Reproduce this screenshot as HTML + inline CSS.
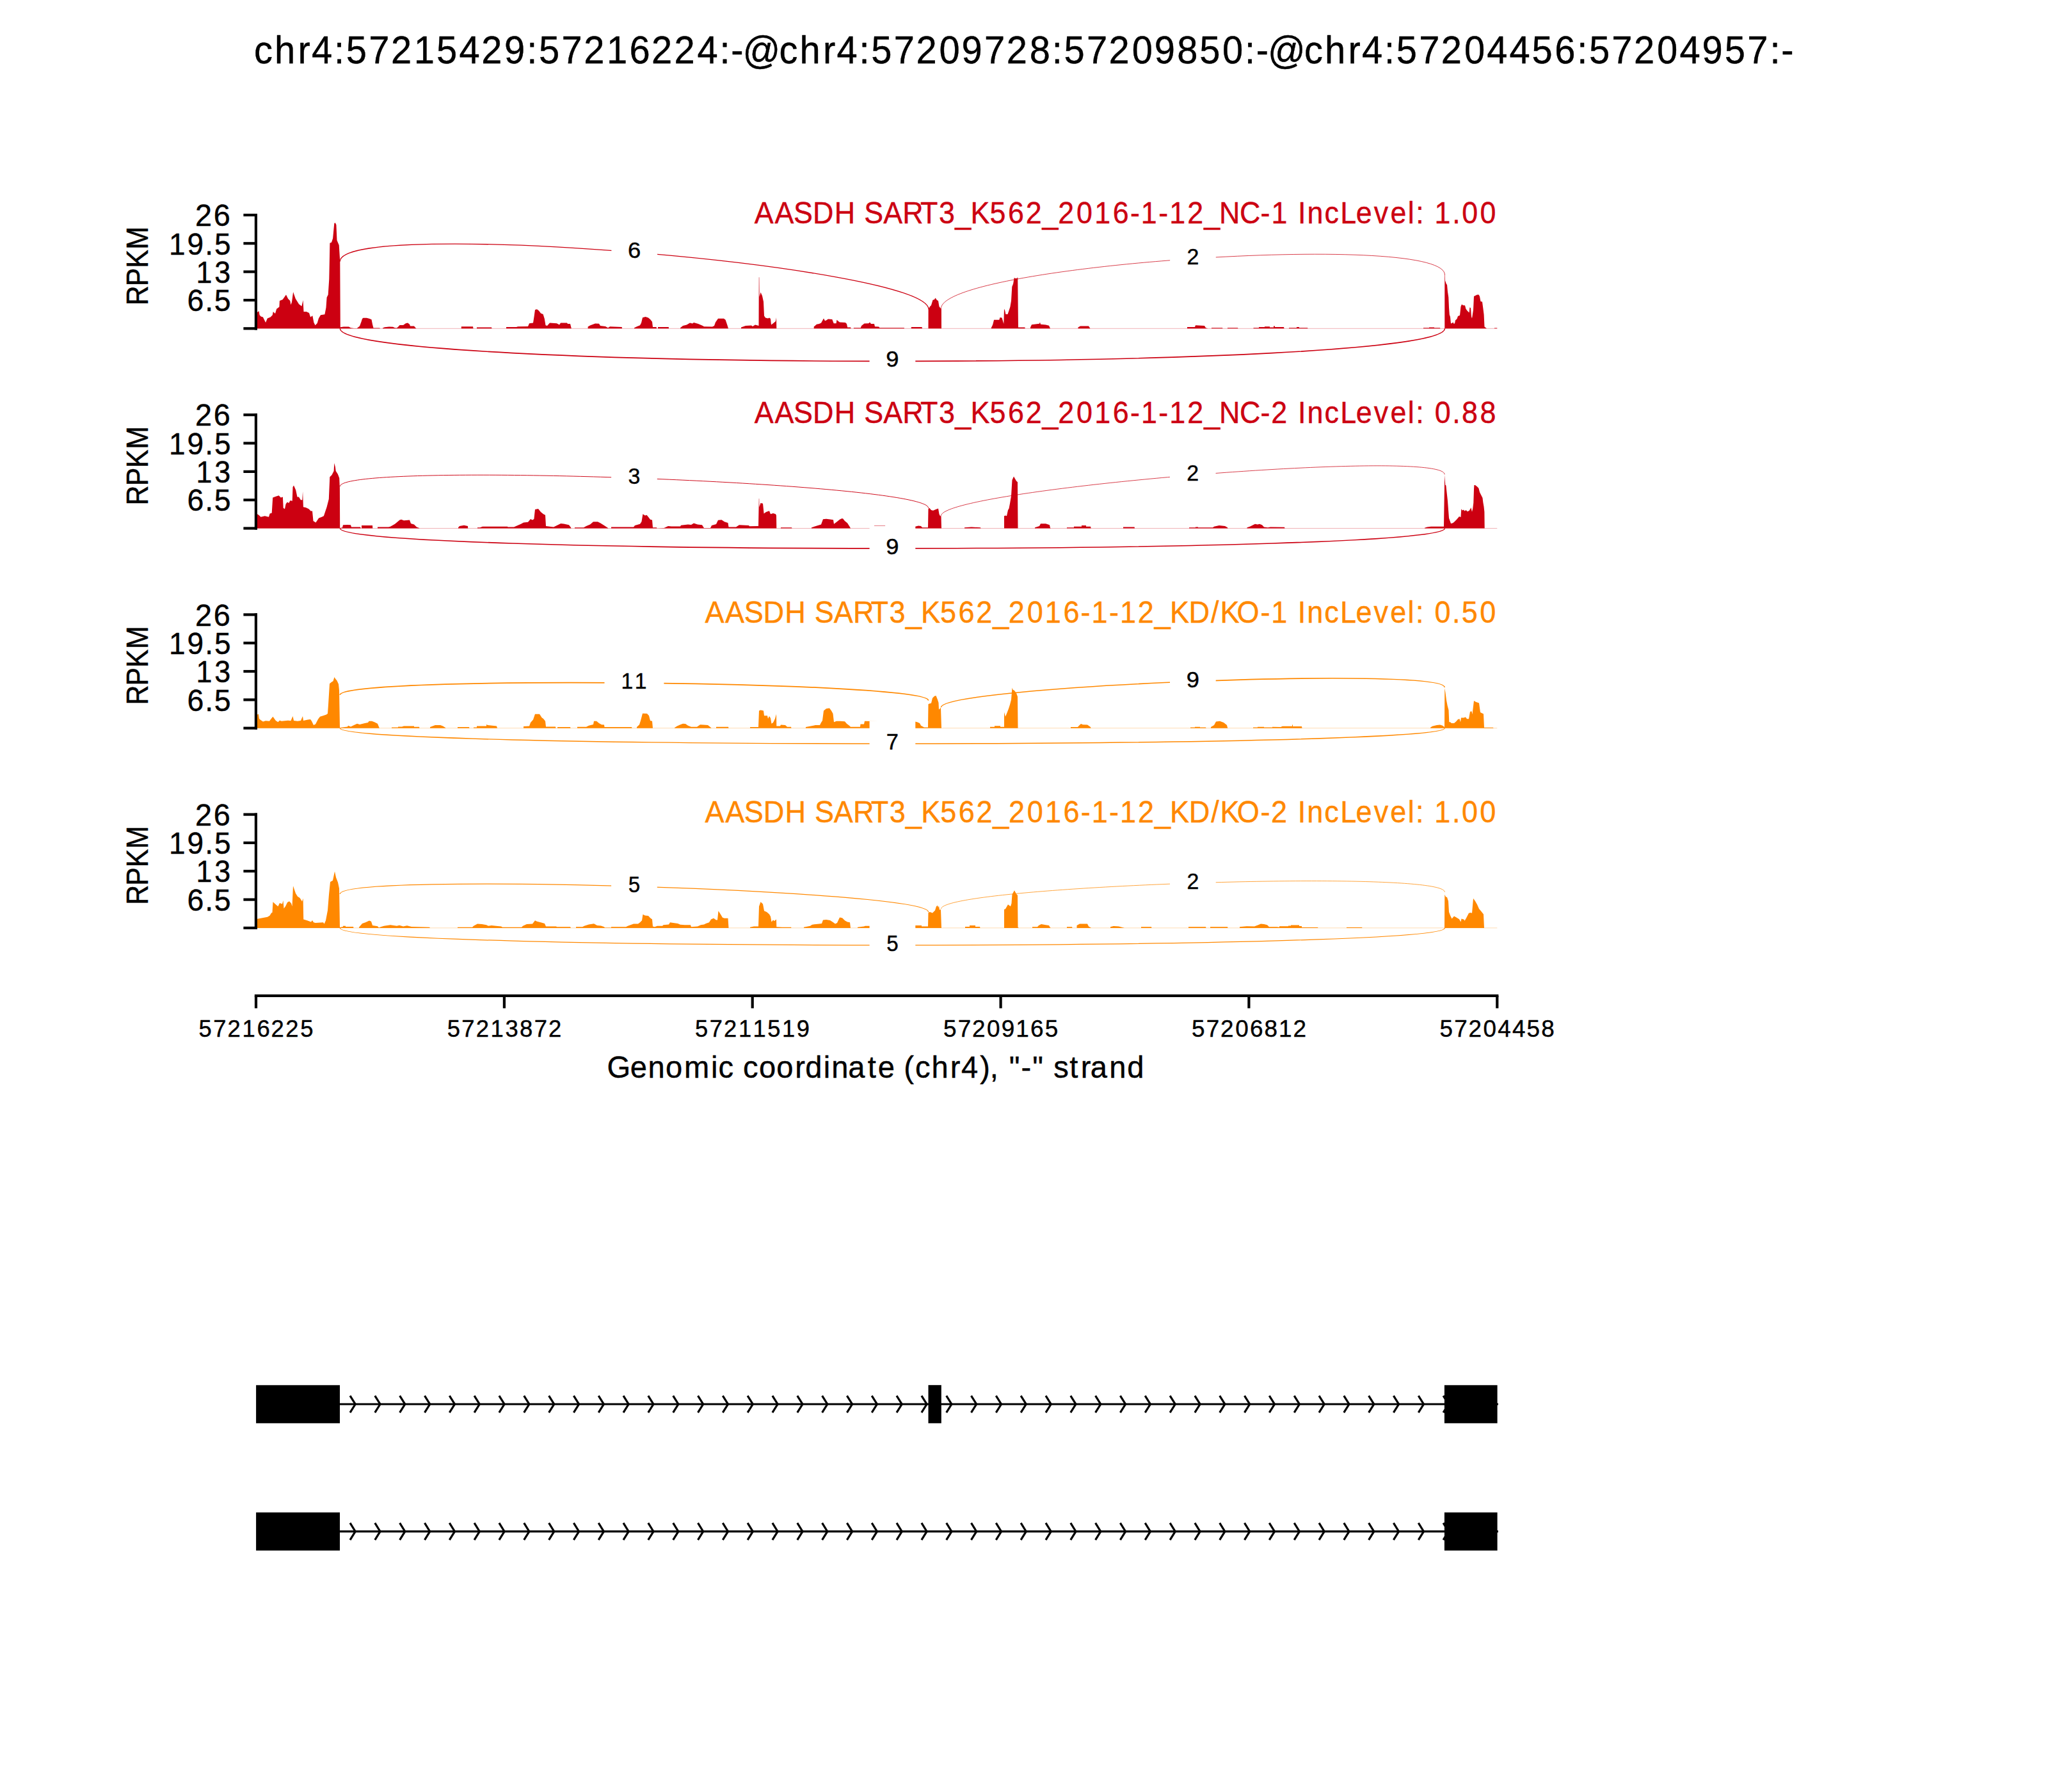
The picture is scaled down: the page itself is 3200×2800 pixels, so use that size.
<!DOCTYPE html>
<html><head><meta charset="utf-8"><title>Sashimi plot</title><style>html,body{margin:0;padding:0;background:#fff;}svg{display:block;}text{font-family:"Liberation Sans", sans-serif;}</style></head>
<body><svg width="3200" height="2800" viewBox="0 0 3200 2800">
<rect width="3200" height="2800" fill="#fff"/>
<path d="M400.0,513.3 L400.0,513.3 L400.0,489.3 L401.9,488.0 L404.5,485.9 L405.6,492.2 L407.7,494.4 L410.9,495.4 L415.1,503.9 L417.8,497.5 L422.6,495.4 L425.8,492.2 L426.8,487.0 L430.0,490.1 L432.1,482.7 L436.4,479.5 L436.9,470.0 L441.7,467.9 L447.0,460.4 L450.1,466.8 L453.3,470.0 L454.4,476.3 L456.0,472.1 L458.1,456.2 L461.8,466.8 L467.1,475.3 L471.4,478.5 L473.5,468.9 L474.5,487.0 L478.8,487.0 L483.0,489.1 L485.1,495.4 L488.3,493.3 L490.4,503.9 L492.6,508.2 L495.7,505.0 L497.9,497.5 L501.0,492.2 L507.4,491.2 L509.5,480.6 L510.6,464.7 L512.7,460.4 L514.3,436.0 L515.4,379.8 L518.0,378.8 L520.1,372.4 L522.3,349.1 L523.8,348.0 L525.4,351.2 L526.5,375.6 L529.7,383.0 L530.7,398.9 L531.3,408.5 L531.8,511.3 L537.0,510.4 L545.0,510.4 L548.0,512.3 L553.0,513.0 L557.7,513.0 L562.0,509.6 L564.5,502.8 L566.0,497.9 L567.5,496.7 L573.0,496.7 L577.5,497.9 L580.5,499.3 L582.0,506.7 L583.5,512.5 L593.0,512.5 L594.0,513.3 L598.0,513.3 L598.0,512.5 L601.0,511.3 L608.0,510.4 L614.0,510.8 L617.0,512.3 L620.0,512.5 L622.5,510.3 L624.5,508.1 L630.0,508.1 L634.0,505.2 L637.0,504.5 L640.0,506.7 L641.0,509.4 L647.0,509.4 L650.0,513.0 L651.0,513.3 L720.8,513.3 L720.8,510.2 L739.0,510.2 L739.5,513.3 L745.0,513.3 L745.0,511.4 L768.0,511.4 L768.5,513.3 L791.0,513.3 L791.0,511.0 L807.0,511.0 L809.0,510.3 L825.0,509.9 L827.0,505.2 L833.0,504.4 L834.5,495.0 L836.0,484.1 L839.0,483.3 L842.0,485.6 L845.0,489.5 L848.6,491.1 L850.8,498.1 L852.5,508.3 L855.0,509.1 L859.0,504.4 L870.0,505.2 L874.0,507.5 L876.0,504.4 L886.0,504.4 L887.0,506.0 L891.0,506.0 L892.8,513.3 L918.6,513.3 L918.6,510.6 L922.0,508.6 L930.0,505.5 L936.0,505.8 L938.0,509.1 L946.0,509.9 L950.0,512.3 L953.0,510.2 L971.7,511.1 L972.0,513.3 L991.0,513.3 L991.0,512.2 L995.0,510.3 L1000.0,508.3 L1002.0,504.4 L1004.0,496.3 L1008.6,495.0 L1013.0,496.6 L1016.0,498.9 L1019.0,502.8 L1020.0,511.1 L1025.6,511.1 L1026.0,513.3 L1028.0,513.3 L1028.0,511.1 L1044.8,511.1 L1045.0,513.3 L1063.0,513.3 L1063.0,512.2 L1067.0,509.1 L1073.0,507.5 L1078.0,504.4 L1082.0,505.6 L1084.0,504.1 L1091.0,506.0 L1098.0,509.1 L1100.0,510.3 L1113.0,510.6 L1116.0,509.1 L1118.0,503.6 L1122.0,497.7 L1131.0,497.7 L1133.6,499.7 L1136.0,506.7 L1138.0,513.3 L1158.0,513.3 L1158.0,511.4 L1165.0,509.1 L1174.0,508.6 L1176.0,509.9 L1180.0,507.5 L1185.5,509.1 L1185.8,433.3 L1186.3,433.3 L1186.6,463.8 L1188.5,456.7 L1191.0,462.3 L1193.0,471.6 L1194.0,493.5 L1196.0,496.6 L1200.0,497.4 L1202.0,496.6 L1204.0,498.1 L1205.0,507.5 L1208.0,505.2 L1212.0,502.1 L1213.0,496.1 L1213.3,513.3 L1271.7,513.3 L1271.7,510.6 L1276.0,506.7 L1280.0,506.0 L1283.1,504.4 L1287.0,497.4 L1289.0,501.3 L1291.0,500.5 L1294.0,498.5 L1300.3,498.9 L1302.7,505.2 L1306.6,505.2 L1307.5,499.7 L1310.0,502.1 L1312.0,503.6 L1320.9,503.9 L1323.0,506.0 L1324.2,511.4 L1329.2,511.4 L1329.5,513.3 L1333.9,513.3 L1333.9,512.2 L1344.8,512.2 L1346.0,509.1 L1350.5,505.6 L1357.3,505.2 L1359.0,503.6 L1361.0,506.0 L1366.0,506.0 L1367.0,510.3 L1373.0,510.6 L1374.5,512.2 L1412.8,512.2 L1413.0,513.3 L1423.8,513.3 L1423.8,511.0 L1440.5,511.0 L1441.0,513.3 L1450.5,513.3 L1450.6,483.6 L1453.0,478.9 L1455.0,477.0 L1457.5,468.8 L1460.0,468.0 L1461.5,465.6 L1464.0,469.0 L1466.0,470.0 L1467.5,479.0 L1470.0,482.0 L1470.9,482.4 L1471.0,513.3 L1548.8,513.3 L1548.8,512.2 L1551.1,507.5 L1553.1,499.7 L1561.3,499.7 L1562.5,496.1 L1565.5,496.6 L1568.3,506.0 L1569.0,482.5 L1570.3,485.6 L1571.4,491.1 L1574.5,491.1 L1576.4,485.6 L1578.4,479.4 L1580.0,470.0 L1581.3,448.1 L1583.1,443.5 L1584.7,434.1 L1586.6,434.9 L1588.6,434.9 L1590.2,433.3 L1591.0,511.4 L1601.5,511.4 L1601.6,513.3 L1610.0,513.3 L1610.0,511.4 L1612.0,507.2 L1618.0,506.4 L1624.0,505.8 L1625.0,503.6 L1626.0,506.7 L1634.0,507.5 L1639.0,508.8 L1641.0,513.3 L1684.5,513.3 L1684.5,511.4 L1688.0,509.4 L1701.0,509.4 L1703.5,513.3 L1855.0,513.3 L1855.0,511.1 L1867.0,511.1 L1868.0,508.3 L1882.0,509.1 L1884.0,512.2 L1887.5,513.3 L1893.0,513.3 L1893.0,512.2 L1910.0,512.2 L1910.5,513.3 L1918.0,513.3 L1918.0,512.2 L1934.0,512.2 L1934.5,513.3 L1958.5,513.3 L1958.5,512.2 L1967.0,512.2 L1967.0,511.1 L1976.0,511.1 L1976.0,510.2 L1984.0,510.2 L1984.0,511.4 L1990.0,511.4 L1990.0,509.4 L1992.0,509.4 L1992.0,511.1 L2006.0,511.1 L2006.5,513.3 L2014.0,513.3 L2014.0,512.2 L2026.0,512.2 L2026.0,511.1 L2030.0,511.1 L2030.0,512.2 L2043.0,512.2 L2043.5,513.3 L2224.0,513.3 L2224.0,512.3 L2233.0,512.3 L2233.0,511.4 L2241.0,511.4 L2241.0,512.2 L2250.0,512.2 L2250.5,513.3 L2257.3,513.3 L2257.3,428.6 L2257.8,428.6 L2258.1,439.3 L2258.5,439.6 L2260.0,444.0 L2261.0,444.7 L2262.0,455.7 L2263.3,464.5 L2264.0,480.6 L2264.8,491.6 L2266.0,495.2 L2267.0,505.5 L2269.0,504.8 L2270.5,503.3 L2271.0,505.5 L2273.0,505.5 L2274.0,500.4 L2276.5,498.2 L2278.0,494.1 L2281.0,492.7 L2282.5,479.1 L2284.0,475.5 L2286.0,476.9 L2289.0,477.3 L2290.5,482.8 L2293.0,486.1 L2295.6,488.6 L2296.5,480.2 L2298.0,481.3 L2299.0,494.5 L2300.0,497.4 L2302.0,484.2 L2303.0,463.0 L2305.0,461.9 L2308.0,460.4 L2310.6,460.4 L2312.0,463.0 L2313.5,471.1 L2316.0,471.4 L2317.5,482.8 L2318.6,491.6 L2319.5,510.6 L2322.0,512.5 L2323.0,513.3 L2335.0,513.3 L2335.0,512.5 L2339.3,512.5 L2339.3,513.3 L2339.3,513.3 Z" fill="#CC0011" stroke="none"/>
<line x1="400" y1="513.3" x2="2339.3" y2="513.3" stroke="#CC0011" stroke-width="1" stroke-opacity="0.3"/>
<path d="M531.3,408.5 C531.3,339.5 1451.2,414.6 1451.2,483.6" fill="none" stroke="#CC0011" stroke-width="1.35"/>
<path d="M1470.3,482.4 C1470.3,413.4 2257.5,360.5 2257.5,429.5" fill="none" stroke="#CC0011" stroke-width="0.76"/>
<path d="M531.3,513.3 C531.3,581.4 2257.5,581.4 2257.5,513.3" fill="none" stroke="#CC0011" stroke-width="1.60"/>
<path d="M400.0,825.5 L400.0,825.5 L400.0,804.5 L402.0,803.2 L404.4,804.7 L407.5,807.8 L413.8,806.3 L420.0,807.8 L421.6,802.4 L424.7,801.6 L426.2,777.4 L430.9,775.8 L435.6,774.2 L438.8,777.4 L441.9,776.6 L442.7,793.8 L445.0,795.3 L446.6,787.5 L448.9,784.4 L451.2,786.0 L453.6,782.1 L456.7,782.8 L457.5,761.0 L459.0,758.6 L462.2,765.7 L464.5,776.6 L466.9,776.6 L470.0,781.3 L472.3,781.3 L473.1,768.0 L473.9,792.2 L477.8,793.0 L482.5,795.3 L485.6,798.5 L488.0,798.5 L489.5,814.1 L493.4,816.4 L498.1,809.4 L502.8,807.8 L505.9,806.3 L510.6,792.2 L513.8,779.7 L515.3,745.3 L518.4,742.2 L521.6,736.0 L522.3,723.5 L523.9,729.7 L524.7,736.0 L527.8,740.7 L530.2,746.9 L530.9,762.5 L531.2,825.0 L535.0,824.2 L536.0,820.3 L543.0,820.0 L548.0,820.3 L549.0,823.5 L563.0,823.5 L563.8,825.5 L565.0,825.5 L565.0,821.1 L582.0,821.1 L582.3,825.5 L590.0,825.5 L590.0,823.5 L607.0,823.5 L610.0,822.7 L617.0,818.8 L624.5,812.5 L627.0,811.8 L631.0,813.3 L640.0,812.5 L642.0,818.0 L647.0,819.6 L651.0,823.5 L655.0,825.0 L655.5,825.5 L716.0,825.5 L716.0,824.2 L718.0,821.9 L725.0,820.8 L731.0,821.9 L731.2,825.5 L746.0,825.5 L746.0,824.2 L750.0,824.2 L754.0,822.7 L793.0,822.7 L793.5,823.5 L803.0,823.5 L813.9,818.8 L818.0,816.4 L825.0,815.7 L829.0,811.0 L831.9,812.5 L834.4,811.0 L836.0,796.1 L841.0,795.0 L845.0,800.0 L849.0,803.2 L852.0,804.7 L853.0,821.9 L865.0,823.5 L876.2,818.0 L881.0,818.5 L889.0,820.3 L892.0,824.2 L892.5,825.5 L898.0,825.5 L898.0,824.2 L912.0,824.2 L916.0,821.9 L922.0,819.6 L927.0,815.2 L934.0,815.2 L938.0,817.2 L944.0,821.1 L950.0,825.0 L950.5,825.5 L955.0,825.5 L955.0,823.5 L990.0,823.5 L992.0,821.1 L1000.0,818.8 L1002.5,814.9 L1004.4,803.2 L1008.0,805.5 L1010.5,804.7 L1013.0,807.8 L1016.0,811.8 L1019.0,812.5 L1020.0,824.2 L1026.0,824.2 L1026.5,825.5 L1037.5,825.0 L1044.0,821.9 L1049.0,822.5 L1063.0,822.5 L1064.0,820.7 L1075.0,819.6 L1080.0,820.0 L1084.0,817.5 L1090.0,819.6 L1097.0,820.3 L1100.0,825.0 L1110.0,825.0 L1112.0,821.1 L1119.0,819.1 L1122.0,812.8 L1127.5,812.2 L1132.0,815.3 L1137.5,816.9 L1138.5,823.5 L1150.0,823.5 L1155.0,820.3 L1170.0,821.1 L1171.0,822.2 L1185.0,821.9 L1185.8,778.9 L1186.2,778.9 L1186.4,792.2 L1188.5,786.0 L1192.0,786.8 L1193.6,802.4 L1197.0,800.0 L1202.0,798.2 L1204.0,803.2 L1208.0,801.9 L1212.0,803.2 L1213.0,805.5 L1213.3,825.5 L1220.0,825.5 L1220.0,824.2 L1237.0,824.2 L1237.5,825.5 L1268.0,825.5 L1268.0,824.2 L1278.0,821.1 L1283.0,819.6 L1286.0,811.3 L1291.0,810.7 L1297.0,811.5 L1302.0,812.2 L1303.0,818.8 L1307.0,815.7 L1312.0,811.8 L1315.0,810.2 L1317.0,810.2 L1320.0,814.1 L1324.0,817.2 L1328.0,823.5 L1329.0,825.5 L1366.0,825.5 L1366.0,821.1 L1383.0,821.1 L1384.0,825.5 L1430.0,825.5 L1430.0,822.7 L1435.0,821.6 L1439.0,821.9 L1441.0,824.2 L1450.0,824.2 L1450.5,795.3 L1452.0,793.5 L1455.0,796.9 L1458.0,797.7 L1462.0,796.1 L1466.0,794.6 L1467.5,803.2 L1469.0,806.3 L1470.5,806.3 L1471.0,825.5 L1507.0,825.5 L1507.0,824.2 L1518.0,823.5 L1532.0,824.2 L1532.5,825.5 L1569.0,825.5 L1569.0,806.3 L1571.0,805.5 L1573.0,806.3 L1575.0,796.9 L1576.5,794.6 L1578.0,786.8 L1580.0,775.0 L1581.5,750.0 L1584.0,744.6 L1588.0,751.6 L1590.0,753.2 L1590.5,825.5 L1617.0,825.5 L1617.0,824.2 L1624.0,821.9 L1626.0,818.3 L1634.0,818.3 L1640.0,820.3 L1641.0,825.0 L1642.0,825.5 L1667.0,825.5 L1667.0,824.2 L1678.0,824.2 L1678.0,822.7 L1690.0,822.7 L1690.0,821.1 L1697.0,821.1 L1697.0,822.7 L1704.0,822.7 L1704.7,825.5 L1755.0,825.5 L1755.0,823.5 L1772.6,823.5 L1773.0,825.5 L1858.0,825.5 L1858.0,824.2 L1868.0,824.2 L1868.0,823.5 L1872.0,823.5 L1872.0,824.2 L1895.0,824.2 L1897.0,822.7 L1905.0,821.1 L1914.0,821.9 L1918.0,824.2 L1918.5,825.5 L1948.5,825.5 L1948.5,824.2 L1953.0,822.7 L1961.0,818.8 L1965.0,819.6 L1968.0,818.8 L1972.0,820.3 L1975.0,823.5 L1981.0,824.2 L1985.0,823.5 L2007.0,823.8 L2007.5,825.5 L2226.0,825.5 L2226.0,824.7 L2230.0,823.5 L2236.0,822.7 L2256.0,822.7 L2257.2,742.2 L2258.3,757.8 L2259.4,758.6 L2261.0,773.5 L2262.0,782.8 L2264.0,809.4 L2267.0,818.0 L2270.0,817.2 L2272.0,815.7 L2276.0,811.8 L2280.0,807.1 L2282.5,808.1 L2283.3,795.3 L2285.0,797.5 L2287.0,796.4 L2288.5,798.4 L2290.6,797.0 L2292.8,799.2 L2295.6,798.1 L2297.6,794.7 L2298.4,793.1 L2300.0,799.8 L2301.2,794.7 L2302.3,785.8 L2303.0,764.6 L2303.4,757.9 L2305.0,757.9 L2307.0,759.6 L2309.0,761.2 L2310.5,762.9 L2312.0,769.1 L2314.5,774.1 L2316.5,778.0 L2317.4,785.2 L2318.5,791.4 L2319.4,799.8 L2319.7,825.5 L2319.7,825.5 Z" fill="#CC0011" stroke="none"/>
<line x1="400" y1="825.5" x2="2339.3" y2="825.5" stroke="#CC0011" stroke-width="1" stroke-opacity="0.3"/>
<path d="M531.2,760.2 C531.2,720.2 1450.6,753.8 1450.6,793.8" fill="none" stroke="#CC0011" stroke-width="0.96"/>
<path d="M1470.3,806.2 C1470.3,764.2 2257.2,699.4 2257.2,741.4" fill="none" stroke="#CC0011" stroke-width="0.76"/>
<path d="M531.3,825.5 C531.3,867.3 2257.5,867.3 2257.5,825.5" fill="none" stroke="#CC0011" stroke-width="1.60"/>
<path d="M400.0,1137.7 L400.0,1137.7 L400.0,1117.7 L402.0,1116.6 L404.0,1115.8 L405.0,1122.9 L407.5,1125.2 L411.0,1127.5 L415.0,1126.3 L421.0,1126.8 L422.6,1124.4 L426.4,1119.7 L428.0,1122.1 L430.9,1126.0 L434.4,1128.3 L437.0,1125.7 L440.0,1126.8 L445.0,1126.3 L450.0,1125.7 L454.4,1126.3 L457.5,1118.9 L459.0,1126.0 L465.0,1126.8 L470.0,1126.0 L473.0,1118.9 L474.0,1126.0 L481.0,1124.4 L485.0,1124.1 L487.0,1126.8 L490.0,1133.0 L493.0,1131.4 L497.0,1123.7 L500.0,1119.7 L505.0,1118.2 L510.0,1116.6 L512.0,1115.0 L513.0,1101.0 L515.0,1068.2 L518.0,1065.8 L520.5,1064.3 L522.5,1058.0 L524.0,1060.4 L526.5,1063.5 L529.0,1068.9 L530.0,1079.1 L531.0,1136.9 L543.0,1135.4 L544.0,1133.8 L548.0,1135.4 L553.0,1133.0 L558.0,1130.7 L562.0,1131.9 L567.0,1130.7 L570.0,1129.9 L575.0,1129.1 L576.6,1126.8 L581.0,1126.8 L585.0,1128.3 L590.0,1130.7 L592.5,1136.9 L593.0,1137.7 L612.0,1137.7 L612.0,1136.6 L622.0,1136.6 L622.0,1135.4 L628.0,1135.4 L631.0,1134.6 L647.0,1134.6 L647.0,1135.8 L655.0,1135.8 L655.5,1137.7 L672.0,1137.7 L672.0,1136.1 L680.0,1133.0 L688.0,1133.0 L692.0,1134.6 L696.0,1136.9 L696.5,1137.7 L715.0,1137.7 L715.0,1136.1 L733.0,1136.1 L733.5,1137.7 L740.0,1137.7 L740.0,1136.6 L745.0,1136.6 L745.0,1134.6 L760.0,1134.6 L760.0,1131.9 L762.0,1133.0 L776.0,1134.6 L777.0,1137.7 L818.0,1137.7 L818.0,1134.9 L827.0,1134.6 L829.0,1129.1 L833.0,1124.4 L836.0,1115.8 L843.0,1115.8 L846.6,1121.3 L849.0,1122.9 L852.0,1126.8 L853.0,1135.4 L868.0,1135.4 L868.5,1137.7 L871.0,1137.7 L871.0,1136.1 L891.0,1136.1 L891.5,1137.7 L902.0,1137.7 L902.0,1135.7 L916.0,1135.7 L920.0,1133.8 L927.0,1131.9 L928.0,1126.8 L932.0,1126.8 L936.0,1129.9 L940.0,1132.2 L944.0,1132.5 L944.5,1136.1 L987.0,1136.1 L987.5,1137.7 L995.0,1137.7 L995.0,1136.1 L999.0,1132.2 L1001.0,1126.0 L1004.0,1114.7 L1011.0,1115.0 L1014.0,1118.2 L1016.0,1126.0 L1019.0,1126.8 L1020.0,1137.7 L1054.0,1137.7 L1054.0,1136.9 L1058.0,1134.6 L1063.0,1132.2 L1067.0,1130.7 L1071.0,1131.0 L1075.0,1133.8 L1080.0,1135.8 L1089.0,1135.8 L1094.0,1132.2 L1099.0,1132.5 L1106.0,1133.0 L1111.0,1136.9 L1111.5,1137.7 L1119.0,1137.7 L1119.0,1135.8 L1138.0,1135.8 L1138.5,1137.7 L1172.0,1137.7 L1172.0,1136.1 L1185.0,1136.1 L1186.0,1110.4 L1188.5,1109.6 L1193.0,1110.4 L1194.0,1118.2 L1199.0,1118.2 L1200.0,1122.9 L1202.0,1118.9 L1204.0,1122.1 L1205.5,1130.7 L1208.0,1129.1 L1211.0,1122.9 L1213.0,1115.8 L1213.3,1134.6 L1219.0,1134.6 L1220.0,1132.5 L1227.0,1133.0 L1230.0,1135.8 L1236.0,1135.8 L1236.5,1137.7 L1259.0,1137.7 L1259.0,1136.1 L1267.0,1134.6 L1274.0,1133.0 L1281.0,1133.0 L1283.0,1129.1 L1285.0,1126.0 L1287.0,1110.4 L1291.0,1107.2 L1296.0,1106.4 L1299.0,1110.4 L1301.5,1115.0 L1303.0,1128.3 L1307.0,1126.8 L1313.0,1126.8 L1320.0,1127.2 L1323.0,1130.7 L1327.0,1133.8 L1329.0,1135.8 L1344.0,1135.8 L1344.5,1131.4 L1350.0,1131.4 L1351.0,1126.8 L1394.0,1127.2 L1430.0,1127.5 L1433.0,1128.3 L1437.0,1129.9 L1439.0,1133.8 L1444.0,1136.6 L1450.0,1136.6 L1450.5,1100.2 L1452.0,1099.4 L1455.0,1098.7 L1457.0,1090.8 L1460.0,1087.7 L1462.5,1086.9 L1465.0,1093.2 L1466.5,1097.9 L1467.0,1108.8 L1470.0,1105.7 L1471.0,1137.7 L1547.0,1137.7 L1547.0,1135.8 L1554.0,1135.8 L1554.0,1134.3 L1563.0,1134.3 L1563.0,1135.8 L1569.0,1135.8 L1569.0,1112.7 L1571.0,1119.7 L1573.0,1115.0 L1576.0,1107.2 L1578.0,1101.0 L1580.0,1093.2 L1581.5,1074.4 L1582.5,1077.5 L1585.0,1079.1 L1588.0,1083.0 L1590.0,1088.5 L1590.5,1137.7 L1673.0,1137.7 L1673.0,1136.1 L1684.0,1136.1 L1686.0,1133.8 L1689.0,1131.0 L1692.0,1132.2 L1699.0,1132.5 L1704.0,1136.1 L1704.5,1137.7 L1860.0,1137.7 L1860.0,1136.6 L1867.0,1136.6 L1867.0,1135.7 L1875.0,1135.7 L1875.0,1136.6 L1884.0,1136.6 L1884.5,1137.7 L1892.0,1137.7 L1892.0,1136.1 L1897.0,1133.0 L1900.0,1127.5 L1906.0,1126.8 L1912.0,1129.1 L1917.0,1133.0 L1918.0,1136.9 L1918.5,1137.7 L1958.0,1137.7 L1958.0,1136.6 L1965.0,1136.6 L1965.0,1135.7 L1975.0,1135.7 L1975.0,1136.6 L1988.0,1136.6 L1988.0,1135.7 L2001.0,1136.0 L2004.0,1134.8 L2019.0,1134.8 L2019.0,1132.6 L2020.0,1132.6 L2020.0,1135.1 L2034.0,1135.1 L2034.5,1137.7 L2235.0,1137.7 L2235.0,1136.8 L2238.0,1134.8 L2245.0,1133.1 L2250.0,1132.6 L2254.0,1133.8 L2257.0,1136.0 L2257.3,1075.3 L2258.5,1082.2 L2260.0,1094.1 L2261.7,1102.7 L2263.5,1109.5 L2264.3,1128.3 L2266.0,1128.3 L2268.0,1130.0 L2272.0,1130.0 L2275.0,1127.4 L2278.0,1124.0 L2280.5,1123.2 L2282.0,1128.3 L2283.0,1121.5 L2287.0,1121.5 L2290.0,1120.6 L2292.0,1123.2 L2295.0,1123.2 L2297.0,1112.1 L2299.5,1111.2 L2300.5,1116.3 L2303.0,1095.0 L2306.0,1096.7 L2311.0,1098.4 L2313.0,1112.9 L2316.0,1114.6 L2318.0,1115.5 L2319.0,1136.8 L2333.0,1136.8 L2333.5,1137.7 L2333.5,1137.7 Z" fill="#FF8800" stroke="none"/>
<line x1="400" y1="1137.7" x2="2339.3" y2="1137.7" stroke="#FF8800" stroke-width="1" stroke-opacity="0.3"/>
<path d="M531.2,1085.8 C531.2,1055.1 1450.6,1063.7 1450.6,1094.4" fill="none" stroke="#FF8800" stroke-width="1.73"/>
<path d="M1470.3,1105.3 C1470.3,1072.0 2257.3,1040.8 2257.3,1074.1" fill="none" stroke="#FF8800" stroke-width="1.60"/>
<path d="M531.3,1137.7 C531.3,1170.1 2257.5,1170.1 2257.5,1137.7" fill="none" stroke="#FF8800" stroke-width="1.44"/>
<path d="M400.0,1449.9 L400.0,1449.9 L400.0,1436.4 L402.0,1435.8 L410.0,1434.3 L418.0,1432.7 L421.6,1430.4 L424.0,1426.5 L425.5,1425.7 L426.5,1409.3 L430.0,1412.4 L434.4,1416.3 L437.0,1410.9 L441.0,1412.4 L442.5,1406.9 L443.5,1419.4 L446.0,1416.3 L449.0,1410.1 L452.0,1408.2 L455.0,1411.6 L456.5,1416.3 L458.0,1384.3 L462.0,1396.0 L465.0,1400.7 L468.5,1403.0 L472.0,1408.5 L473.6,1403.8 L474.2,1436.6 L480.0,1438.2 L486.0,1440.5 L488.0,1437.9 L490.0,1441.3 L493.0,1442.1 L505.0,1441.3 L506.7,1443.6 L509.0,1438.2 L512.0,1422.6 L514.0,1397.6 L516.0,1378.0 L520.0,1375.7 L523.0,1361.6 L525.0,1371.0 L528.0,1378.8 L530.0,1388.2 L531.0,1449.1 L536.0,1448.0 L536.0,1446.8 L540.0,1446.8 L540.0,1448.0 L552.0,1448.0 L552.5,1449.9 L561.0,1449.9 L561.0,1448.8 L566.0,1442.9 L571.0,1441.3 L577.0,1438.5 L580.0,1439.7 L582.0,1446.0 L590.0,1447.2 L592.0,1449.4 L595.0,1448.3 L600.0,1446.8 L610.0,1445.2 L620.0,1446.8 L624.0,1445.7 L630.0,1447.6 L636.0,1446.3 L643.0,1447.9 L671.0,1448.8 L672.0,1449.9 L715.0,1449.9 L715.0,1448.8 L738.0,1448.8 L740.0,1446.8 L746.0,1443.6 L753.0,1444.1 L760.0,1445.2 L763.0,1446.8 L768.0,1446.0 L775.0,1446.8 L783.0,1447.6 L785.0,1448.8 L815.0,1448.8 L817.0,1446.8 L823.0,1444.1 L832.0,1443.6 L836.0,1438.2 L839.0,1439.7 L845.0,1441.3 L851.0,1442.9 L853.0,1447.6 L869.0,1447.6 L870.0,1448.3 L891.0,1448.3 L892.0,1449.9 L900.0,1449.9 L900.0,1448.3 L910.0,1448.3 L913.0,1446.8 L920.0,1444.4 L928.0,1443.2 L933.0,1446.0 L939.0,1446.5 L944.0,1448.3 L945.0,1449.4 L955.0,1449.4 L955.0,1448.3 L978.0,1448.3 L981.0,1446.8 L990.0,1443.6 L997.0,1443.6 L1000.0,1441.3 L1003.0,1438.2 L1004.5,1428.8 L1008.0,1430.4 L1013.0,1431.1 L1016.0,1434.3 L1019.0,1436.6 L1020.0,1447.6 L1023.0,1448.3 L1027.0,1446.8 L1035.0,1446.8 L1036.5,1445.2 L1045.0,1444.4 L1047.0,1441.3 L1052.0,1442.1 L1059.0,1442.9 L1063.0,1444.7 L1070.0,1445.2 L1079.0,1445.2 L1080.0,1448.3 L1090.0,1447.6 L1095.0,1445.2 L1100.0,1444.4 L1103.0,1442.9 L1108.0,1441.3 L1111.0,1436.6 L1115.0,1434.7 L1119.0,1437.4 L1121.0,1437.4 L1122.5,1423.3 L1126.0,1428.8 L1129.0,1433.8 L1132.0,1434.7 L1137.5,1434.7 L1138.5,1449.9 L1172.0,1449.9 L1172.0,1448.8 L1178.0,1447.6 L1185.0,1447.6 L1186.0,1416.3 L1188.5,1409.3 L1192.0,1412.4 L1194.0,1423.3 L1198.0,1424.9 L1202.0,1428.5 L1204.0,1431.9 L1205.5,1440.5 L1208.0,1437.4 L1210.0,1439.0 L1213.0,1436.6 L1213.3,1448.3 L1222.0,1448.8 L1236.0,1448.8 L1236.5,1449.9 L1256.0,1449.9 L1256.0,1448.8 L1266.0,1446.8 L1269.0,1444.7 L1280.0,1443.6 L1284.0,1442.9 L1286.0,1437.4 L1291.0,1436.9 L1297.0,1437.9 L1302.0,1441.3 L1305.0,1443.6 L1308.0,1442.1 L1312.0,1433.5 L1316.0,1434.3 L1320.0,1438.2 L1324.0,1440.5 L1328.0,1441.3 L1329.0,1449.9 L1340.0,1449.9 L1340.0,1448.8 L1350.0,1447.6 L1352.0,1446.8 L1394.0,1446.9 L1430.0,1446.0 L1440.0,1446.0 L1440.0,1447.6 L1450.0,1447.6 L1450.5,1425.7 L1453.0,1424.9 L1457.0,1426.5 L1461.0,1422.6 L1463.0,1416.3 L1465.0,1414.7 L1466.0,1417.9 L1467.0,1415.5 L1468.0,1421.8 L1470.0,1421.0 L1471.0,1449.9 L1508.0,1449.9 L1508.0,1447.9 L1515.0,1447.9 L1515.0,1446.0 L1524.0,1446.0 L1524.0,1447.9 L1531.0,1447.9 L1531.5,1449.9 L1569.0,1449.9 L1569.0,1421.0 L1571.0,1420.2 L1575.0,1413.2 L1579.0,1416.3 L1580.5,1411.6 L1581.5,1397.6 L1585.0,1391.3 L1588.0,1396.8 L1590.0,1399.1 L1590.5,1449.1 L1592.0,1449.9 L1613.0,1449.9 L1613.0,1448.3 L1621.0,1448.3 L1623.0,1446.0 L1627.0,1444.0 L1634.0,1445.2 L1639.0,1446.0 L1641.0,1449.4 L1642.0,1449.9 L1667.0,1449.9 L1667.0,1448.3 L1675.0,1448.3 L1675.5,1449.9 L1682.5,1449.9 L1682.5,1446.0 L1687.0,1443.6 L1699.0,1443.6 L1701.0,1447.6 L1705.0,1449.9 L1735.0,1449.9 L1735.0,1448.3 L1740.0,1447.1 L1748.0,1447.6 L1757.0,1449.9 L1783.0,1449.9 L1783.0,1448.3 L1799.0,1448.3 L1799.5,1449.9 L1857.0,1449.9 L1857.0,1448.3 L1884.0,1448.3 L1884.5,1449.9 L1891.0,1449.9 L1891.0,1448.3 L1918.0,1448.3 L1918.5,1449.9 L1937.0,1449.9 L1937.0,1448.3 L1948.0,1447.2 L1960.0,1447.6 L1966.0,1445.2 L1970.0,1443.6 L1975.0,1444.1 L1980.0,1445.2 L1983.0,1448.3 L1995.0,1448.3 L1999.0,1448.7 L1999.0,1447.3 L2013.0,1447.3 L2013.0,1446.5 L2017.0,1446.5 L2017.0,1445.6 L2030.0,1445.6 L2030.0,1447.0 L2034.0,1447.0 L2034.0,1449.0 L2059.0,1449.0 L2059.5,1449.9 L2104.0,1449.9 L2104.0,1449.0 L2128.0,1449.0 L2128.5,1449.9 L2257.0,1449.9 L2257.3,1397.8 L2259.0,1401.2 L2261.0,1402.0 L2263.0,1408.0 L2264.0,1425.1 L2266.0,1430.2 L2268.5,1435.4 L2272.0,1431.6 L2276.0,1433.7 L2280.0,1436.2 L2282.5,1440.5 L2283.5,1435.4 L2287.5,1436.7 L2288.5,1438.8 L2291.0,1434.5 L2295.0,1426.8 L2298.0,1426.0 L2300.0,1426.8 L2302.0,1403.8 L2305.0,1408.0 L2308.0,1413.2 L2311.0,1420.0 L2314.0,1423.4 L2318.0,1428.5 L2319.0,1449.9 L2319.0,1449.9 Z" fill="#FF8800" stroke="none"/>
<line x1="400" y1="1449.9" x2="2339.3" y2="1449.9" stroke="#FF8800" stroke-width="1" stroke-opacity="0.3"/>
<path d="M531.2,1397.0 C531.2,1362.3 1450.6,1390.4 1450.6,1425.1" fill="none" stroke="#FF8800" stroke-width="1.25"/>
<path d="M1470.3,1420.4 C1470.3,1384.1 2257.3,1357.5 2257.3,1393.8" fill="none" stroke="#FF8800" stroke-width="0.76"/>
<path d="M531.3,1449.9 C531.3,1485.8 2257.5,1485.8 2257.5,1449.9" fill="none" stroke="#FF8800" stroke-width="1.25"/>
<rect x="955.4" y="358.9" width="71.7" height="70.8" fill="#fff"/>
<rect x="1828.1" y="368.8" width="71.7" height="70.8" fill="#fff"/>
<rect x="1358.6" y="529.0" width="71.7" height="70.8" fill="#fff"/>
<rect x="955.1" y="711.6" width="71.7" height="70.8" fill="#fff"/>
<rect x="1827.9" y="706.9" width="71.7" height="70.8" fill="#fff"/>
<rect x="1358.6" y="821.5" width="71.7" height="70.8" fill="#fff"/>
<rect x="944.5" y="1031.7" width="92.9" height="70.8" fill="#fff"/>
<rect x="1828.0" y="1029.3" width="71.7" height="70.8" fill="#fff"/>
<rect x="1358.6" y="1126.6" width="71.7" height="70.8" fill="#fff"/>
<rect x="955.1" y="1349.6" width="71.7" height="70.8" fill="#fff"/>
<rect x="1828.0" y="1344.5" width="71.7" height="70.8" fill="#fff"/>
<rect x="1358.6" y="1441.4" width="71.7" height="70.8" fill="#fff"/>
<line x1="399.9" y1="333.9" x2="399.9" y2="515.4" stroke="#000" stroke-width="4.2"/>
<line x1="380.4" y1="336.0" x2="402" y2="336.0" stroke="#000" stroke-width="4.2"/>
<line x1="380.4" y1="380.3" x2="402" y2="380.3" stroke="#000" stroke-width="4.2"/>
<line x1="380.4" y1="424.6" x2="402" y2="424.6" stroke="#000" stroke-width="4.2"/>
<line x1="380.4" y1="469.0" x2="402" y2="469.0" stroke="#000" stroke-width="4.2"/>
<line x1="380.4" y1="513.3" x2="402" y2="513.3" stroke="#000" stroke-width="4.2"/>
<line x1="399.9" y1="646.1" x2="399.9" y2="827.6" stroke="#000" stroke-width="4.2"/>
<line x1="380.4" y1="648.2" x2="402" y2="648.2" stroke="#000" stroke-width="4.2"/>
<line x1="380.4" y1="692.5" x2="402" y2="692.5" stroke="#000" stroke-width="4.2"/>
<line x1="380.4" y1="736.9" x2="402" y2="736.9" stroke="#000" stroke-width="4.2"/>
<line x1="380.4" y1="781.2" x2="402" y2="781.2" stroke="#000" stroke-width="4.2"/>
<line x1="380.4" y1="825.5" x2="402" y2="825.5" stroke="#000" stroke-width="4.2"/>
<line x1="399.9" y1="958.3" x2="399.9" y2="1139.8" stroke="#000" stroke-width="4.2"/>
<line x1="380.4" y1="960.4" x2="402" y2="960.4" stroke="#000" stroke-width="4.2"/>
<line x1="380.4" y1="1004.7" x2="402" y2="1004.7" stroke="#000" stroke-width="4.2"/>
<line x1="380.4" y1="1049.0" x2="402" y2="1049.0" stroke="#000" stroke-width="4.2"/>
<line x1="380.4" y1="1093.4" x2="402" y2="1093.4" stroke="#000" stroke-width="4.2"/>
<line x1="380.4" y1="1137.7" x2="402" y2="1137.7" stroke="#000" stroke-width="4.2"/>
<line x1="399.9" y1="1270.5" x2="399.9" y2="1452.0" stroke="#000" stroke-width="4.2"/>
<line x1="380.4" y1="1272.6" x2="402" y2="1272.6" stroke="#000" stroke-width="4.2"/>
<line x1="380.4" y1="1316.9" x2="402" y2="1316.9" stroke="#000" stroke-width="4.2"/>
<line x1="380.4" y1="1361.2" x2="402" y2="1361.2" stroke="#000" stroke-width="4.2"/>
<line x1="380.4" y1="1405.6" x2="402" y2="1405.6" stroke="#000" stroke-width="4.2"/>
<line x1="380.4" y1="1449.9" x2="402" y2="1449.9" stroke="#000" stroke-width="4.2"/>
<line x1="397.8" y1="1555.8" x2="2341.4" y2="1555.8" stroke="#000" stroke-width="4.2"/>
<line x1="400.0" y1="1555.8" x2="400.0" y2="1575.4" stroke="#000" stroke-width="4.2"/>
<line x1="787.9" y1="1555.8" x2="787.9" y2="1575.4" stroke="#000" stroke-width="4.2"/>
<line x1="1175.7" y1="1555.8" x2="1175.7" y2="1575.4" stroke="#000" stroke-width="4.2"/>
<line x1="1563.6" y1="1555.8" x2="1563.6" y2="1575.4" stroke="#000" stroke-width="4.2"/>
<line x1="1951.4" y1="1555.8" x2="1951.4" y2="1575.4" stroke="#000" stroke-width="4.2"/>
<line x1="2339.3" y1="1555.8" x2="2339.3" y2="1575.4" stroke="#000" stroke-width="4.2"/>
<line x1="531" y1="2194.0" x2="2340.9" y2="2194.0" stroke="#000" stroke-width="3.2"/>
<path d="M547.0,2180.8 L555.2,2194.0 L547.0,2207.2 M585.8,2180.8 L594.0,2194.0 L585.8,2207.2 M624.6,2180.8 L632.8,2194.0 L624.6,2207.2 M663.5,2180.8 L671.7,2194.0 L663.5,2207.2 M702.3,2180.8 L710.5,2194.0 L702.3,2207.2 M741.1,2180.8 L749.3,2194.0 L741.1,2207.2 M779.9,2180.8 L788.1,2194.0 L779.9,2207.2 M818.7,2180.8 L826.9,2194.0 L818.7,2207.2 M857.6,2180.8 L865.8,2194.0 L857.6,2207.2 M896.4,2180.8 L904.6,2194.0 L896.4,2207.2 M935.2,2180.8 L943.4,2194.0 L935.2,2207.2 M974.0,2180.8 L982.2,2194.0 L974.0,2207.2 M1012.8,2180.8 L1021.0,2194.0 L1012.8,2207.2 M1051.7,2180.8 L1059.9,2194.0 L1051.7,2207.2 M1090.5,2180.8 L1098.7,2194.0 L1090.5,2207.2 M1129.3,2180.8 L1137.5,2194.0 L1129.3,2207.2 M1168.1,2180.8 L1176.3,2194.0 L1168.1,2207.2 M1206.9,2180.8 L1215.1,2194.0 L1206.9,2207.2 M1245.8,2180.8 L1254.0,2194.0 L1245.8,2207.2 M1284.6,2180.8 L1292.8,2194.0 L1284.6,2207.2 M1323.4,2180.8 L1331.6,2194.0 L1323.4,2207.2 M1362.2,2180.8 L1370.4,2194.0 L1362.2,2207.2 M1401.0,2180.8 L1409.2,2194.0 L1401.0,2207.2 M1439.9,2180.8 L1448.1,2194.0 L1439.9,2207.2 M1478.7,2180.8 L1486.9,2194.0 L1478.7,2207.2 M1517.5,2180.8 L1525.7,2194.0 L1517.5,2207.2 M1556.3,2180.8 L1564.5,2194.0 L1556.3,2207.2 M1595.1,2180.8 L1603.3,2194.0 L1595.1,2207.2 M1634.0,2180.8 L1642.2,2194.0 L1634.0,2207.2 M1672.8,2180.8 L1681.0,2194.0 L1672.8,2207.2 M1711.6,2180.8 L1719.8,2194.0 L1711.6,2207.2 M1750.4,2180.8 L1758.6,2194.0 L1750.4,2207.2 M1789.2,2180.8 L1797.4,2194.0 L1789.2,2207.2 M1828.1,2180.8 L1836.3,2194.0 L1828.1,2207.2 M1866.9,2180.8 L1875.1,2194.0 L1866.9,2207.2 M1905.7,2180.8 L1913.9,2194.0 L1905.7,2207.2 M1944.5,2180.8 L1952.7,2194.0 L1944.5,2207.2 M1983.3,2180.8 L1991.5,2194.0 L1983.3,2207.2 M2022.2,2180.8 L2030.4,2194.0 L2022.2,2207.2 M2061.0,2180.8 L2069.2,2194.0 L2061.0,2207.2 M2099.8,2180.8 L2108.0,2194.0 L2099.8,2207.2 M2138.6,2180.8 L2146.8,2194.0 L2138.6,2207.2 M2177.4,2180.8 L2185.6,2194.0 L2177.4,2207.2 M2216.3,2180.8 L2224.5,2194.0 L2216.3,2207.2 M2255.1,2180.8 L2263.3,2194.0 L2255.1,2207.2 M2293.9,2180.8 L2302.1,2194.0 L2293.9,2207.2" fill="none" stroke="#000" stroke-width="3.2" stroke-linejoin="miter"/>
<rect x="400.1" y="2164.3" width="130.9" height="59.5" fill="#000"/>
<rect x="2256.9" y="2164.3" width="82.7" height="59.5" fill="#000"/>
<rect x="1450.5" y="2164.2" width="20.3" height="59.6" fill="#000"/>
<line x1="531" y1="2392.9" x2="2340.9" y2="2392.9" stroke="#000" stroke-width="3.2"/>
<path d="M547.0,2379.7 L555.2,2392.9 L547.0,2406.1 M585.8,2379.7 L594.0,2392.9 L585.8,2406.1 M624.6,2379.7 L632.8,2392.9 L624.6,2406.1 M663.5,2379.7 L671.7,2392.9 L663.5,2406.1 M702.3,2379.7 L710.5,2392.9 L702.3,2406.1 M741.1,2379.7 L749.3,2392.9 L741.1,2406.1 M779.9,2379.7 L788.1,2392.9 L779.9,2406.1 M818.7,2379.7 L826.9,2392.9 L818.7,2406.1 M857.6,2379.7 L865.8,2392.9 L857.6,2406.1 M896.4,2379.7 L904.6,2392.9 L896.4,2406.1 M935.2,2379.7 L943.4,2392.9 L935.2,2406.1 M974.0,2379.7 L982.2,2392.9 L974.0,2406.1 M1012.8,2379.7 L1021.0,2392.9 L1012.8,2406.1 M1051.7,2379.7 L1059.9,2392.9 L1051.7,2406.1 M1090.5,2379.7 L1098.7,2392.9 L1090.5,2406.1 M1129.3,2379.7 L1137.5,2392.9 L1129.3,2406.1 M1168.1,2379.7 L1176.3,2392.9 L1168.1,2406.1 M1206.9,2379.7 L1215.1,2392.9 L1206.9,2406.1 M1245.8,2379.7 L1254.0,2392.9 L1245.8,2406.1 M1284.6,2379.7 L1292.8,2392.9 L1284.6,2406.1 M1323.4,2379.7 L1331.6,2392.9 L1323.4,2406.1 M1362.2,2379.7 L1370.4,2392.9 L1362.2,2406.1 M1401.0,2379.7 L1409.2,2392.9 L1401.0,2406.1 M1439.9,2379.7 L1448.1,2392.9 L1439.9,2406.1 M1478.7,2379.7 L1486.9,2392.9 L1478.7,2406.1 M1517.5,2379.7 L1525.7,2392.9 L1517.5,2406.1 M1556.3,2379.7 L1564.5,2392.9 L1556.3,2406.1 M1595.1,2379.7 L1603.3,2392.9 L1595.1,2406.1 M1634.0,2379.7 L1642.2,2392.9 L1634.0,2406.1 M1672.8,2379.7 L1681.0,2392.9 L1672.8,2406.1 M1711.6,2379.7 L1719.8,2392.9 L1711.6,2406.1 M1750.4,2379.7 L1758.6,2392.9 L1750.4,2406.1 M1789.2,2379.7 L1797.4,2392.9 L1789.2,2406.1 M1828.1,2379.7 L1836.3,2392.9 L1828.1,2406.1 M1866.9,2379.7 L1875.1,2392.9 L1866.9,2406.1 M1905.7,2379.7 L1913.9,2392.9 L1905.7,2406.1 M1944.5,2379.7 L1952.7,2392.9 L1944.5,2406.1 M1983.3,2379.7 L1991.5,2392.9 L1983.3,2406.1 M2022.2,2379.7 L2030.4,2392.9 L2022.2,2406.1 M2061.0,2379.7 L2069.2,2392.9 L2061.0,2406.1 M2099.8,2379.7 L2108.0,2392.9 L2099.8,2406.1 M2138.6,2379.7 L2146.8,2392.9 L2138.6,2406.1 M2177.4,2379.7 L2185.6,2392.9 L2177.4,2406.1 M2216.3,2379.7 L2224.5,2392.9 L2216.3,2406.1 M2255.1,2379.7 L2263.3,2392.9 L2255.1,2406.1 M2293.9,2379.7 L2302.1,2392.9 L2293.9,2406.1" fill="none" stroke="#000" stroke-width="3.2" stroke-linejoin="miter"/>
<rect x="400.1" y="2363.2" width="130.9" height="59.5" fill="#000"/>
<rect x="2256.9" y="2363.2" width="82.7" height="59.5" fill="#000"/>
<text transform="translate(0,403.25) scale(1.0447,1)" x="939.06" y="0" font-size="34.92" fill="#000" stroke="#000" stroke-width="0.45" stroke-linejoin="round">6</text>
<text transform="translate(0,413.15) scale(0.9715,1)" x="1908.91" y="0" font-size="34.92" fill="#000" stroke="#000" stroke-width="0.45" stroke-linejoin="round">2</text>
<text transform="translate(0,573.32) scale(1.0417,1)" x="1328.88" y="0" font-size="34.92" fill="#000" stroke="#000" stroke-width="0.45" stroke-linejoin="round">9</text>
<text transform="translate(0,755.95) scale(0.9688,1)" x="1013.23" y="0" font-size="34.92" fill="#000" stroke="#000" stroke-width="0.45" stroke-linejoin="round">3</text>
<text transform="translate(0,751.27) scale(0.9715,1)" x="1908.76" y="0" font-size="34.92" fill="#000" stroke="#000" stroke-width="0.45" stroke-linejoin="round">2</text>
<text transform="translate(0,865.80) scale(1.0417,1)" x="1328.88" y="0" font-size="34.92" fill="#000" stroke="#000" stroke-width="0.45" stroke-linejoin="round">9</text>
<text transform="translate(0,1076.02) scale(0.9636,1)" x="1007.15 1029.18" y="0" font-size="34.92" fill="#000" stroke="#000" stroke-width="0.45" stroke-linejoin="round">11</text>
<text transform="translate(0,1073.67) scale(1.0417,1)" x="1779.48" y="0" font-size="34.92" fill="#000" stroke="#000" stroke-width="0.45" stroke-linejoin="round">9</text>
<text transform="translate(0,1170.95) scale(0.9872,1)" x="1402.78" y="0" font-size="34.92" fill="#000" stroke="#000" stroke-width="0.45" stroke-linejoin="round">7</text>
<text transform="translate(0,1393.97) scale(0.9509,1)" x="1032.43" y="0" font-size="34.92" fill="#000" stroke="#000" stroke-width="0.45" stroke-linejoin="round">5</text>
<text transform="translate(0,1388.83) scale(0.9715,1)" x="1908.81" y="0" font-size="34.92" fill="#000" stroke="#000" stroke-width="0.45" stroke-linejoin="round">2</text>
<text transform="translate(0,1485.77) scale(0.9509,1)" x="1456.74" y="0" font-size="34.92" fill="#000" stroke="#000" stroke-width="0.45" stroke-linejoin="round">5</text>
<text transform="translate(0,353.20) scale(0.9670,1)" x="315.31 345.19" y="0" font-size="48.50" fill="#000" stroke="#000" stroke-width="0.45" stroke-linejoin="round">26</text>
<text transform="translate(0,397.52) scale(0.9484,1)" x="278.49 308.43 337.71 353.17" y="0" font-size="48.50" fill="#000" stroke="#000" stroke-width="0.45" stroke-linejoin="round">19.5</text>
<text transform="translate(0,441.85) scale(0.9263,1)" x="330.95 361.81" y="0" font-size="48.50" fill="#000" stroke="#000" stroke-width="0.45" stroke-linejoin="round">13</text>
<text transform="translate(0,486.17) scale(0.9594,1)" x="304.92 333.79 348.99" y="0" font-size="48.50" fill="#000" stroke="#000" stroke-width="0.45" stroke-linejoin="round">6.5</text>
<text transform="translate(230.80,0) rotate(-90) scale(0.8845,1)" x="-539.53 -505.53 -473.49 -440.58" y="0" font-size="48.50" fill="#000" stroke="#000" stroke-width="0.45" stroke-linejoin="round">RPKM</text>
<text transform="translate(0,665.40) scale(0.9670,1)" x="315.31 345.19" y="0" font-size="48.50" fill="#000" stroke="#000" stroke-width="0.45" stroke-linejoin="round">26</text>
<text transform="translate(0,709.73) scale(0.9484,1)" x="278.49 308.43 337.71 353.17" y="0" font-size="48.50" fill="#000" stroke="#000" stroke-width="0.45" stroke-linejoin="round">19.5</text>
<text transform="translate(0,754.05) scale(0.9263,1)" x="330.95 361.81" y="0" font-size="48.50" fill="#000" stroke="#000" stroke-width="0.45" stroke-linejoin="round">13</text>
<text transform="translate(0,798.38) scale(0.9594,1)" x="304.92 333.79 348.99" y="0" font-size="48.50" fill="#000" stroke="#000" stroke-width="0.45" stroke-linejoin="round">6.5</text>
<text transform="translate(230.80,0) rotate(-90) scale(0.8845,1)" x="-892.49 -858.49 -826.45 -793.53" y="0" font-size="48.50" fill="#000" stroke="#000" stroke-width="0.45" stroke-linejoin="round">RPKM</text>
<text transform="translate(0,977.60) scale(0.9670,1)" x="315.31 345.19" y="0" font-size="48.50" fill="#000" stroke="#000" stroke-width="0.45" stroke-linejoin="round">26</text>
<text transform="translate(0,1021.92) scale(0.9484,1)" x="278.49 308.43 337.71 353.17" y="0" font-size="48.50" fill="#000" stroke="#000" stroke-width="0.45" stroke-linejoin="round">19.5</text>
<text transform="translate(0,1066.25) scale(0.9263,1)" x="330.95 361.81" y="0" font-size="48.50" fill="#000" stroke="#000" stroke-width="0.45" stroke-linejoin="round">13</text>
<text transform="translate(0,1110.57) scale(0.9594,1)" x="304.92 333.79 348.99" y="0" font-size="48.50" fill="#000" stroke="#000" stroke-width="0.45" stroke-linejoin="round">6.5</text>
<text transform="translate(230.80,0) rotate(-90) scale(0.8845,1)" x="-1245.45 -1211.45 -1179.41 -1146.49" y="0" font-size="48.50" fill="#000" stroke="#000" stroke-width="0.45" stroke-linejoin="round">RPKM</text>
<text transform="translate(0,1289.80) scale(0.9670,1)" x="315.31 345.19" y="0" font-size="48.50" fill="#000" stroke="#000" stroke-width="0.45" stroke-linejoin="round">26</text>
<text transform="translate(0,1334.12) scale(0.9484,1)" x="278.49 308.43 337.71 353.17" y="0" font-size="48.50" fill="#000" stroke="#000" stroke-width="0.45" stroke-linejoin="round">19.5</text>
<text transform="translate(0,1378.45) scale(0.9263,1)" x="330.95 361.81" y="0" font-size="48.50" fill="#000" stroke="#000" stroke-width="0.45" stroke-linejoin="round">13</text>
<text transform="translate(0,1422.77) scale(0.9594,1)" x="304.92 333.79 348.99" y="0" font-size="48.50" fill="#000" stroke="#000" stroke-width="0.45" stroke-linejoin="round">6.5</text>
<text transform="translate(230.80,0) rotate(-90) scale(0.8845,1)" x="-1598.41 -1564.41 -1532.37 -1499.45" y="0" font-size="48.50" fill="#000" stroke="#000" stroke-width="0.45" stroke-linejoin="round">RPKM</text>
<text transform="translate(0,348.70) scale(0.9241,1)" x="1275.56 1309.86 1341.88 1374.23 1410.74 1447.29 1461.05 1493.49 1526.17 1555.99 1587.39 1614.79 1640.98 1673.44 1704.27 1734.27 1762.37 1788.99 1820.27 1850.66 1881.55 1910.97 1929.32 1958.99 1977.34 2007.58 2035.68 2061.59 2096.17 2131.37 2149.72 2179.69 2194.44 2210.17 2239.36 2266.26 2292.73 2323.06 2350.85 2380.35 2393.83 2409.58 2425.56 2455.51 2471.74 2502.38" y="0" font-size="48.50" fill="#CC0011" stroke="#CC0011" stroke-width="0.45" stroke-linejoin="round">AASDH SART3_K562_2016-1-12_NC-1 IncLevel: 1.00</text>
<text transform="translate(0,660.90) scale(0.9258,1)" x="1273.25 1307.48 1339.45 1371.73 1408.18 1444.68 1458.39 1490.77 1523.38 1553.16 1584.50 1611.85 1637.99 1670.39 1701.17 1731.11 1759.15 1785.73 1816.94 1847.28 1878.11 1907.49 1925.79 1955.41 1973.72 2003.91 2031.95 2057.81 2092.32 2127.48 2145.39 2175.71 2190.43 2206.11 2235.26 2262.10 2288.52 2318.80 2346.54 2376.00 2389.45 2405.17 2421.34 2451.01 2467.19 2497.78" y="0" font-size="48.50" fill="#CC0011" stroke="#CC0011" stroke-width="0.45" stroke-linejoin="round">AASDH SART3_K562_2016-1-12_NC-2 IncLevel: 0.88</text>
<text transform="translate(0,973.10) scale(0.9291,1)" x="1185.47 1219.58 1251.43 1283.59 1319.91 1356.32 1369.95 1402.21 1434.70 1464.38 1495.61 1522.87 1548.89 1581.20 1611.86 1641.70 1669.64 1696.12 1727.22 1757.45 1788.17 1817.46 1835.68 1865.22 1883.43 1913.52 1941.46 1967.48 1999.27 2036.45 2051.91 2080.10 2119.71 2137.93 2167.78 2182.45 2198.05 2227.09 2253.83 2280.16 2310.33 2337.97 2367.35 2380.75 2396.41 2412.50 2442.09 2458.01 2488.67" y="0" font-size="48.50" fill="#FF8800" stroke="#FF8800" stroke-width="0.45" stroke-linejoin="round">AASDH SART3_K562_2016-1-12_KD/KO-1 IncLevel: 0.50</text>
<text transform="translate(0,1285.30) scale(0.9296,1)" x="1184.91 1219.00 1250.83 1282.97 1319.28 1355.67 1369.30 1401.54 1434.01 1463.68 1494.90 1522.14 1548.15 1580.44 1611.09 1640.92 1668.85 1695.31 1726.40 1756.61 1787.32 1816.60 1834.80 1864.33 1882.54 1912.61 1940.54 1966.55 1998.32 2035.48 2050.93 2079.11 2118.70 2136.52 2166.75 2181.41 2197.00 2226.03 2252.76 2279.07 2309.23 2336.86 2366.23 2379.62 2395.27 2411.11 2440.93 2457.03 2487.49" y="0" font-size="48.50" fill="#FF8800" stroke="#FF8800" stroke-width="0.45" stroke-linejoin="round">AASDH SART3_K562_2016-1-12_KD/KO-2 IncLevel: 1.00</text>
<text transform="translate(0,98.50) scale(0.9546,1)" x="415.99 449.43 487.66 510.20 546.95 566.56 603.65 639.99 677.45 714.53 751.75 787.96 825.54 862.48 882.09 919.17 955.52 992.98 1030.28 1066.49 1103.49 1141.25 1178.00 1196.61 1215.61 1275.47 1308.91 1347.13 1369.68 1406.43 1426.04 1463.12 1499.47 1537.23 1574.04 1611.09 1647.44 1685.20 1721.95 1741.56 1778.65 1814.99 1852.75 1889.57 1926.74 1963.51 2000.72 2037.48 2056.08 2075.09 2134.94 2168.38 2206.60 2229.15 2265.90 2285.51 2322.60 2358.94 2396.70 2433.70 2470.69 2507.46 2544.68 2581.43 2601.04 2638.12 2674.47 2712.23 2749.23 2786.03 2822.99 2860.08 2896.95 2915.56" y="0" font-size="60.64" fill="#000" stroke="#000" stroke-width="0.45" stroke-linejoin="round">chr4:57215429:57216224:-@chr4:57209728:57209850:-@chr4:57204456:57204957:-</text>
<text transform="translate(0,1620.00) scale(0.9761,1)" x="318.21 341.51 364.32 387.84 411.25 433.98 457.20 480.76" y="0" font-size="37.30" fill="#000" stroke="#000" stroke-width="0.45" stroke-linejoin="round">57216225</text>
<text transform="translate(0,1620.00) scale(0.9771,1)" x="715.02 738.29 761.07 784.57 808.00 831.15 854.27 877.05" y="0" font-size="37.30" fill="#000" stroke="#000" stroke-width="0.45" stroke-linejoin="round">57213872</text>
<text transform="translate(0,1620.00) scale(0.9735,1)" x="1115.55 1138.92 1161.78 1185.37 1208.65 1231.96 1255.21 1278.56" y="0" font-size="37.30" fill="#000" stroke="#000" stroke-width="0.45" stroke-linejoin="round">57211519</text>
<text transform="translate(0,1620.00) scale(0.9894,1)" x="1489.78 1512.76 1535.26 1558.64 1581.44 1604.27 1627.38 1650.13" y="0" font-size="37.30" fill="#000" stroke="#000" stroke-width="0.45" stroke-linejoin="round">57209165</text>
<text transform="translate(0,1620.00) scale(0.9895,1)" x="1881.85 1904.84 1927.33 1950.71 1973.63 1996.53 2019.25 2041.86" y="0" font-size="37.30" fill="#000" stroke="#000" stroke-width="0.45" stroke-linejoin="round">57206812</text>
<text transform="translate(0,1620.00) scale(0.9887,1)" x="2275.20 2298.20 2320.72 2344.11 2367.04 2389.96 2412.75 2435.82" y="0" font-size="37.30" fill="#000" stroke="#000" stroke-width="0.45" stroke-linejoin="round">57204458</text>
<text transform="translate(0,1683.50) scale(0.9717,1)" x="976.04 1013.35 1041.95 1070.39 1100.10 1143.47 1155.12 1180.93 1194.86 1220.66 1248.68 1278.38 1295.00 1324.27 1337.14 1363.85 1395.22 1411.75 1439.77 1453.41 1471.57 1497.89 1528.08 1545.76 1575.91 1591.76 1606.79 1622.73 1642.06 1660.32 1680.01 1694.15 1720.00 1738.05 1753.48 1783.86 1812.53" y="0" font-size="48.50" fill="#000" stroke="#000" stroke-width="0.45" stroke-linejoin="round">Genomic coordinate (chr4), &quot;-&quot; strand</text>
</svg></body></html>
